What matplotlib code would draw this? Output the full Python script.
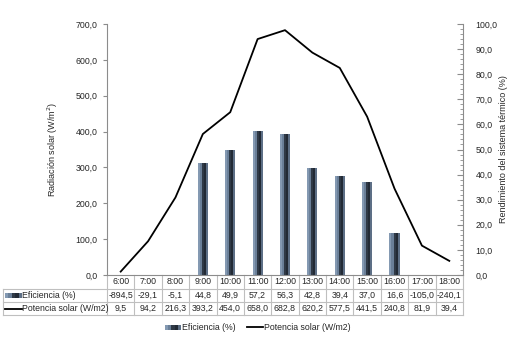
import numpy as np
import matplotlib.pyplot as plt
from matplotlib.ticker import MultipleLocator, FuncFormatter
from matplotlib.lines import Line2D
from matplotlib.patches import Rectangle

plt.rcParams['font.family'] = ['Liberation Sans', 'DejaVu Sans']
plt.rcParams['font.size'] = 6.3

horas = ['6:00', '7:00', '8:00', '9:00', '10:00', '11:00', '12:00',
         '13:00', '14:00', '15:00', '16:00', '17:00', '18:00']
eficiencia = [-894.5, -29.1, -5.1, 44.8, 49.9, 57.2, 56.3, 42.8, 39.4, 37.0, 16.6, -105.0, -240.1]
potencia = [9.5, 94.2, 216.3, 393.2, 454.0, 658.0, 682.8, 620.2, 577.5, 441.5, 240.8, 81.9, 39.4]
serie_bar = 'Eficiencia (%)'
serie_line = 'Potencia solar (W/m2)'

txt = '#262626'
grid_c = '#bfbfbf'
spine_c = '#8c8c8c'
shades = ['#8499b2', '#6a7f98', '#2f3946', '#222a35', '#5d6f86']

def coma(v, pos=None):
    return f"{v:.1f}".replace('.', ',')

fig = plt.figure(figsize=(5.14, 3.51), dpi=100)
ax = fig.add_axes([107/514, 1 - 275/351, 356/514, 251/351])
ax2 = ax.twinx()
ax2.set_zorder(ax.get_zorder() - 1)
ax.patch.set_visible(False)

x = np.arange(len(horas))

# bars (right axis) drawn as shaded stripes
w = 0.37
sw = w / len(shades)
for k, c in enumerate(shades):
    off = -w / 2 + sw * (k + 0.5)
    ax2.bar(x + off, eficiencia, width=sw * 1.02, color=c, linewidth=0)

ax.plot(x, potencia, color='black', lw=1.3, zorder=5)

ax.set_xlim(-0.5, len(horas) - 0.5)
ax.set_ylim(0, 700)
ax2.set_ylim(0, 100)
ax.yaxis.set_major_locator(MultipleLocator(100))
ax.yaxis.set_major_formatter(FuncFormatter(coma))
ax2.yaxis.set_major_locator(MultipleLocator(10))
ax2.yaxis.set_minor_locator(MultipleLocator(2))
ax2.yaxis.set_major_formatter(FuncFormatter(coma))

for a in (ax, ax2):
    for s in a.spines.values():
        s.set_visible(False)
ax.spines['left'].set_visible(True)
ax.spines['left'].set_color(spine_c)
ax.spines['bottom'].set_visible(True)
ax.spines['bottom'].set_color(spine_c)
ax2.spines['right'].set_visible(True)
ax2.spines['right'].set_color(spine_c)

ax.tick_params(axis='y', direction='out', length=3, color=spine_c, labelcolor=txt, pad=4)
ax.tick_params(axis='x', bottom=False, labelbottom=False)
ax2.tick_params(axis='y', which='major', direction='in', length=4, color=spine_c, labelcolor=txt, pad=9)
ax2.tick_params(axis='y', which='minor', direction='in', length=2, color=spine_c)

ax.set_ylabel('Radiación solar (W/m$^2$)', color=txt, labelpad=11, fontsize=6.5)
ax2.set_ylabel('Rendimiento del sistema térmico (%)', color=txt, labelpad=1, fontsize=6.5)

# data table under the axis
tr = ax.get_xaxis_transform()
h = 251.0
y_lines = [-14 / h, -27 / h, -40 / h]
y_rows = [-7 / h, -20.5 / h, -33.5 / h]
x_left = (3 - 107) / 356
x_right = 1.0

for yl in y_lines:
    ax.plot([x_left, x_right], [yl, yl], transform=ax.transAxes, color=grid_c, lw=0.8, clip_on=False)
ax.plot([x_left, x_left], [y_lines[0], y_lines[2]], transform=ax.transAxes, color=grid_c, lw=0.8, clip_on=False)
for i in range(len(horas) + 1):
    ax.plot([i - 0.5, i - 0.5], [0, y_lines[2]], transform=tr, color=grid_c, lw=0.8, clip_on=False)

for i, hr in enumerate(horas):
    ax.text(i, y_rows[0], hr, transform=tr, ha='center', va='center', color=txt)
    ax.text(i, y_rows[1], coma(eficiencia[i]), transform=tr, ha='center', va='center', color=txt)
    ax.text(i, y_rows[2], coma(potencia[i]), transform=tr, ha='center', va='center', color=txt)

# row headers with legend keys
px = lambda p: (p - 107) / 356
for k, c in enumerate(shades):
    ax.add_patch(Rectangle((px(5 + k * 3.4), y_rows[1] - 2.5 / h), 3.5 / 356, 5 / h,
                           transform=ax.transAxes, color=c, lw=0, clip_on=False))
ax.text(px(22.5), y_rows[1], serie_bar, transform=ax.transAxes, ha='left', va='center', color=txt)
ax.plot([px(5), px(22)], [y_rows[2], y_rows[2]], transform=ax.transAxes, color='black', lw=1.3, clip_on=False)
ax.text(px(22.5), y_rows[2], serie_line, transform=ax.transAxes, ha='left', va='center', color=txt)

# legend below (striped key drawn like the bars)
fy = 1 - 327 / 351
for k, c in enumerate(shades):
    fig.patches.append(Rectangle(((165 + k * 3.2) / 514, fy - 2.5 / 351), 3.3 / 514, 5 / 351,
                                 transform=fig.transFigure, color=c, lw=0))
fig.text(182 / 514, fy, serie_bar, ha='left', va='center', color=txt)
fig.add_artist(Line2D([247 / 514, 263 / 514], [fy, fy], transform=fig.transFigure, color='black', lw=1.3))
fig.text(264 / 514, fy, serie_line, ha='left', va='center', color=txt)

fig.savefig('out.png', dpi=100)
